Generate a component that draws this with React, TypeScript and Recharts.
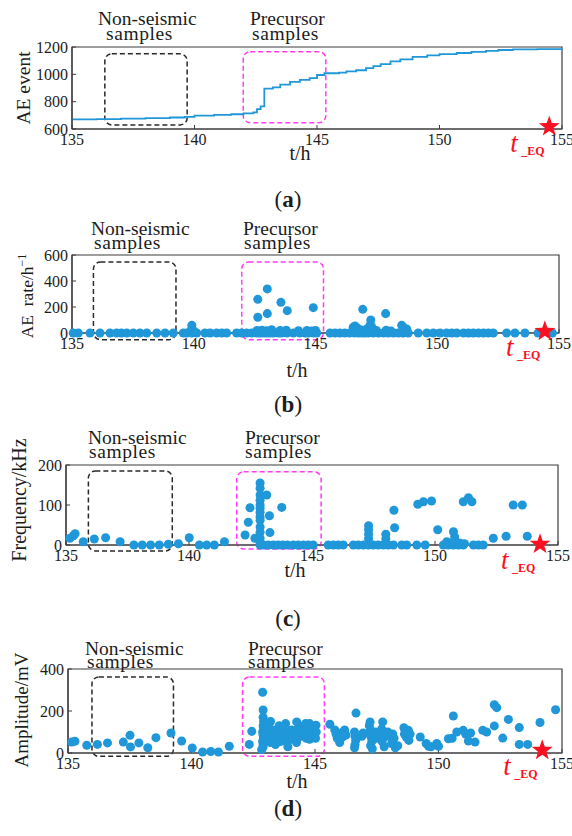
import React from 'react';
import {
  ComposedChart,
  ScatterChart,
  Scatter,
  Line,
  XAxis,
  YAxis,
  ReferenceArea,
  ReferenceDot,
} from 'recharts';

const W = 572;
const H = 836;
const YW = 40;
const XH = 30;
const SERIF = '"Liberation Serif", "Times New Roman", serif';
const BLUE = '#1f97d8';
const RED = '#fa1020';
const MAGENTA = '#ff3cf2';
const FRAME = '#3d3d3d';
const INK = '#1c1c1c';

const X_DOMAIN = [135, 155];
const X_TICKS = [135, 140, 145, 150, 155];

// (a) cumulative AE events, [t/h, count]
const eventPoints = [
  [135.0, 670], [136.0, 672], [137.0, 676], [138.0, 680], [139.0, 684], [139.6, 688],
  [140.0, 698], [140.8, 703], [141.5, 708], [142.0, 715], [142.4, 722], [142.55, 745],
  [142.7, 765], [142.85, 895], [143.2, 905], [143.5, 925], [143.9, 945], [144.3, 960],
  [144.7, 972], [145.0, 995], [145.3, 1008], [145.9, 1012], [146.2, 1022], [146.6, 1030],
  [147.0, 1045], [147.3, 1060], [147.6, 1075], [148.0, 1095], [148.4, 1110], [148.9, 1128],
  [149.5, 1138], [150.0, 1148], [150.7, 1156], [151.3, 1164], [151.9, 1172], [152.4, 1178],
  [153.0, 1182], [154.0, 1184], [155.0, 1185],
];

// (b) AE rate, [t/h, rate]
const ratePoints = [
  [135.05, 0], [135.26, 0], [135.74, 0], [136.15, 0], [136.56, 0], [136.83, 0], [137.03, 0],
  [137.25, 0], [137.52, 0], [137.79, 0], [138.07, 0], [138.48, 0], [138.82, 0], [139.16, 0],
  [139.57, 0], [139.71, 0], [139.92, 0], [140.12, 0], [140.46, 0], [140.67, 0], [140.94, 0],
  [141.15, 0], [141.35, 0], [141.76, 0], [141.97, 0], [142.17, 0], [142.38, 0], [142.58, 0],
  [142.72, 0], [142.86, 0], [142.99, 0], [143.13, 0], [143.27, 0], [143.47, 0], [143.61, 0],
  [143.82, 0], [144.09, 0], [144.36, 0], [144.57, 0], [144.7, 0], [144.91, 0], [145.05, 0],
  [145.6, 0], [145.8, 0], [146.0, 0], [146.2, 0], [146.4, 0], [146.6, 0], [146.76, 0],
  [146.9, 0], [147.03, 0], [147.17, 0], [147.37, 0], [147.58, 0], [147.79, 0], [147.99, 0],
  [148.2, 0], [148.4, 0], [148.6, 0], [148.81, 0], [149.22, 0], [149.57, 0], [149.84, 0],
  [150.12, 0], [150.39, 0], [150.6, 0], [150.8, 0], [151.08, 0], [151.28, 0], [151.48, 0],
  [151.69, 0], [151.9, 0], [152.1, 0], [152.3, 0], [152.85, 0], [153.19, 0], [153.6, 0],
  [154.14, 0], [154.73, 0],
  [139.9, 25], [140.0, 15], [142.6, 20], [142.8, 22], [143.0, 18], [143.2, 25], [143.55, 20],
  [143.8, 22], [144.3, 18], [144.65, 20], [144.85, 15], [145.0, 20], [146.55, 45], [146.7, 40],
  [146.85, 25], [147.1, 30], [147.3, 50], [147.5, 20], [147.9, 22], [148.1, 15], [148.6, 45],
  [148.75, 30],
  [142.63, 259], [143.02, 339], [142.63, 121], [143.02, 149], [143.58, 236], [143.84, 172],
  [144.91, 195], [146.94, 182], [147.27, 100], [147.88, 149], [139.92, 59], [146.62, 54],
  [147.24, 60], [148.54, 59],
];

// (c) dominant frequency, [t/h, kHz]
const freqPoints = [
  [135.16, 17], [135.3, 23], [135.37, 28], [135.7, 8], [136.15, 15], [136.61, 18], [137.2, 8],
  [137.76, 0], [138.1, 0], [138.44, 0], [138.79, 0], [139.16, 2], [139.57, 3], [140.01, 18],
  [140.42, 0], [140.72, 0], [141.03, 0], [141.44, 8], [142.28, 25], [142.41, 57], [142.48, 93],
  [142.68, 17],
  [142.89, 155], [142.89, 142], [142.89, 125], [142.89, 112], [142.89, 100], [142.89, 92],
  [142.89, 82], [142.89, 70], [142.89, 62], [142.89, 45], [142.89, 32], [142.89, 17],
  [142.89, 7], [142.89, 0],
  [143.16, 125], [143.27, 73], [143.29, 31], [143.77, 94],
  [143.02, 0], [143.22, 0], [143.43, 0], [143.63, 0], [143.81, 0], [144.0, 0], [144.24, 0],
  [144.44, 0], [144.65, 0], [144.85, 0], [145.05, 0], [145.66, 0], [145.87, 0], [146.07, 0],
  [146.27, 0], [146.68, 0], [146.88, 0], [147.09, 0], [147.29, 0], [147.49, 0], [147.69, 0],
  [147.9, 0], [148.1, 0], [148.31, 0], [148.65, 0], [148.85, 0], [149.26, 0], [149.6, 0],
  [150.34, 0], [150.54, 0], [150.75, 0], [150.95, 0], [151.15, 0], [151.56, 0], [151.76, 0],
  [151.96, 0],
  [147.3, 48], [147.3, 38], [147.3, 27], [147.3, 16], [147.3, 6],
  [148.0, 27], [148.0, 15],
  [148.33, 87], [148.36, 43], [149.3, 102], [149.53, 108], [149.86, 110], [150.11, 38],
  [150.48, 8], [150.75, 33], [150.8, 20], [150.65, 5], [151.0, 5], [151.2, 3], [151.15, 108],
  [151.36, 118], [151.5, 108], [152.37, 17], [152.89, 22], [153.18, 100], [153.55, 100],
  [153.75, 22],
];

// (d) amplitude, [t/h, mV]
const ampPoints = [
  [135.15, 52], [135.28, 56], [135.76, 37], [136.19, 41], [136.6, 48], [137.24, 52], [137.51, 84],
  [137.53, 29], [137.87, 48], [138.23, 25], [138.56, 73], [139.17, 95], [139.6, 57], [140.03, 24],
  [140.45, 5], [140.78, 7], [141.09, 5], [141.53, 32], [142.34, 41], [142.44, 103],
  [142.88, 289], [142.9, 205], [142.9, 170], [142.92, 150], [142.9, 130], [142.92, 115],
  [142.88, 100], [142.9, 85], [142.92, 70], [142.88, 55], [142.9, 40], [142.84, 16], [142.9, 28],
  [143.2, 150], [143.15, 120], [143.2, 95], [143.18, 70], [143.2, 50],
  [143.4, 110], [143.38, 80], [143.42, 60], [143.4, 40],
  [143.55, 130], [143.58, 100], [143.55, 75], [143.6, 55],
  [143.7, 120], [143.72, 90], [143.7, 65],
  [143.81, 140], [143.85, 100], [143.88, 75], [143.85, 55], [143.9, 30],
  [144.05, 110], [144.08, 85], [144.05, 65],
  [144.26, 148], [144.25, 110], [144.3, 90], [144.28, 70], [144.25, 50],
  [144.45, 125], [144.48, 100], [144.45, 80],
  [144.62, 140], [144.66, 120], [144.6, 95], [144.65, 70],
  [144.78, 140], [144.75, 115], [144.8, 90], [144.78, 65],
  [144.92, 120], [144.95, 95], [144.9, 75],
  [145.04, 132], [145.05, 100], [145.02, 70],
  [145.6, 137], [145.8, 110], [145.85, 90], [145.9, 70], [146.0, 50], [146.05, 95], [146.1, 75],
  [146.2, 110], [146.25, 85],
  [146.66, 190], [146.6, 100], [146.62, 80], [146.65, 60], [146.62, 40], [146.6, 25],
  [146.9, 80], [146.95, 95],
  [147.23, 148], [147.2, 130], [147.25, 110], [147.22, 90], [147.28, 75], [147.3, 55],
  [147.25, 35], [147.32, 20], [147.45, 100], [147.5, 70],
  [147.74, 148], [147.7, 115], [147.75, 95], [147.78, 75], [147.72, 55], [147.8, 30],
  [147.95, 100], [148.0, 80],
  [148.15, 90], [148.2, 70], [148.1, 45], [148.25, 25], [148.35, 35],
  [148.6, 120], [148.65, 105], [148.62, 90], [148.7, 75], [148.78, 108], [148.8, 60], [148.85, 90],
  [149.26, 76], [149.5, 45], [149.6, 32], [149.7, 30], [149.93, 45], [150.0, 32], [150.4, 68],
  [150.55, 70], [150.6, 176], [150.74, 100], [151.0, 108], [151.1, 90], [151.21, 57], [151.3, 95],
  [151.48, 52], [151.79, 108], [151.95, 100],
  [152.26, 230], [152.36, 216], [152.26, 129], [152.6, 71], [152.83, 160], [153.27, 121],
  [153.27, 41], [153.61, 41], [154.11, 145], [154.74, 206],
];

// earthquake moment marker per panel, [t/h, y]
const quakeA = [154.48, 617];
const quakeB = [154.42, 13];
const quakeC = [154.27, 2];
const quakeD = [154.2, 13];

// dashed sample windows per panel: [x1, x2, y1, y2]
const nonSeismicBoxes = [
  [136.34, 139.7, 630, 1150],
  [135.88, 139.27, -51, 546],
  [135.91, 139.32, -15, 185],
  [135.97, 139.27, -16, 362],
];
const precursorBoxes = [
  [141.99, 145.36, 646, 1166],
  [141.97, 145.33, -51, 546],
  [141.94, 145.37, -10, 183],
  [142.07, 145.38, -16, 362],
];

const toRows = (pts: number[][]) => pts.map(([t, v]) => ({ t, v }));

type Plot = { left: number; right: number; top: number; bottom: number };

const PLOTS: Plot[] = [
  { left: 72, right: 562, top: 47, bottom: 129 },
  { left: 72, right: 559, top: 255, bottom: 333 },
  { left: 66, right: 558, top: 465, bottom: 545 },
  { left: 68, right: 562, top: 669, bottom: 753 },
];

const marginFor = (p: Plot) => ({
  top: p.top,
  left: p.left - YW,
  right: W - p.right,
  bottom: H - p.bottom - XH,
});

const TICK = { fill: INK, fontSize: 16, fontFamily: SERIF };

const dashedRect = (color: string) => (p: any) => (
  <rect
    x={p.x}
    y={p.y}
    width={p.width}
    height={p.height}
    rx={7}
    ry={7}
    fill="none"
    stroke={color}
    strokeWidth={1.5}
    strokeDasharray="5 3"
  />
);

function starPoints(cx: number, cy: number, R: number) {
  const r = R * 0.4;
  const pts: string[] = [];
  for (let i = 0; i < 10; i++) {
    const a = -Math.PI / 2 + (i * Math.PI) / 5;
    const rr = i % 2 === 0 ? R : r;
    pts.push(`${cx + rr * Math.cos(a)},${cy + rr * Math.sin(a)}`);
  }
  return pts.join(' ');
}

const quakeShape = (p: any) => (
  <g>
    <polygon points={starPoints(p.cx, p.cy, 11)} fill={RED} />
    <text
      x={p.cx - 39}
      y={p.cy + 25}
      fill={RED}
      fontFamily={SERIF}
      fontStyle="italic"
      fontSize={27}
    >
      t
    </text>
    <text x={p.cx - 28} y={p.cy + 28} fill={RED} fontFamily={SERIF} fontWeight="bold" fontSize={12}>
      _EQ
    </text>
  </g>
);

function frameParts(i: number, yDomain: number[], yTicks: number[]) {
  const nb = nonSeismicBoxes[i];
  const pb = precursorBoxes[i];
  return [
    <XAxis
      key="x"
      type="number"
      dataKey="t"
      domain={X_DOMAIN}
      ticks={X_TICKS}
      interval={0}
      height={XH}
      tickSize={-4}
      tickMargin={9}
      tick={TICK}
      axisLine={{ stroke: FRAME, strokeWidth: 1.2 }}
      tickLine={{ stroke: FRAME }}
    />,
    <YAxis
      key="y"
      type="number"
      dataKey="v"
      domain={yDomain}
      ticks={yTicks}
      interval={0}
      width={YW}
      tickSize={-4}
      tickMargin={8}
      tick={TICK}
      axisLine={{ stroke: FRAME, strokeWidth: 1.2 }}
      tickLine={{ stroke: FRAME }}
    />,
    <ReferenceArea
      key="frame"
      x1={X_DOMAIN[0]}
      x2={X_DOMAIN[1]}
      y1={yDomain[0]}
      y2={yDomain[1]}
      fill="none"
      stroke={FRAME}
      strokeWidth={1.2}
    />,
    <ReferenceArea
      key="nb"
      x1={nb[0]}
      x2={nb[1]}
      y1={nb[2]}
      y2={nb[3]}
      ifOverflow="visible"
      shape={dashedRect('#2a2a2a')}
    />,
    <ReferenceArea
      key="pb"
      x1={pb[0]}
      x2={pb[1]}
      y1={pb[2]}
      y2={pb[3]}
      ifOverflow="visible"
      shape={dashedRect(MAGENTA)}
    />,
  ];
}

const layer: React.CSSProperties = { position: 'absolute', left: 0, top: 0 };

function ScatterPanel({ i, points, yDomain, yTicks, quake }: any) {
  return (
    <div style={layer}>
      <ScatterChart width={W} height={H} margin={marginFor(PLOTS[i])}>
        {frameParts(i, yDomain, yTicks)}
        <Scatter data={toRows(points)} fill={BLUE} isAnimationActive={false} />
        <ReferenceDot x={quake[0]} y={quake[1]} r={11} ifOverflow="visible" shape={quakeShape} />
      </ScatterChart>
    </div>
  );
}

const sampleLabels = [
  { nx: 98, px: 250, y1: 25, y2: 40, ni: 8, pi: 2 },
  { nx: 91, px: 243, y1: 235, y2: 249, ni: 3, pi: 1 },
  { nx: 88, px: 245, y1: 444, y2: 458, ni: 1, pi: 0 },
  { nx: 85, px: 248, y1: 655, y2: 668, ni: 2, pi: 0 },
];

const axisTitleX = [
  { x: 300, y: 160 },
  { x: 297, y: 377 },
  { x: 295, y: 577 },
  { x: 297, y: 788 },
];

const captions = [
  { y: 207, letter: 'a' },
  { y: 412, letter: 'b' },
  { y: 626, letter: 'c' },
  { y: 816, letter: 'd' },
];

function Annotations() {
  const txt = { fontFamily: SERIF, fill: INK };
  return (
    <svg width={W} height={H} style={{ ...layer, pointerEvents: 'none' }}>
      {sampleLabels.map((s, k) => (
        <g key={k} {...txt} fontSize={19.5}>
          <text x={s.nx} y={s.y1}>Non-seismic</text>
          <text x={s.nx + s.ni} y={s.y2} letterSpacing={0.6}>samples</text>
          <text x={s.px} y={s.y1}>Precursor</text>
          <text x={s.px + s.pi} y={s.y2} letterSpacing={0.6}>samples</text>
        </g>
      ))}
      {axisTitleX.map((a, k) => (
        <text key={k} x={a.x} y={a.y} textAnchor="middle" fontSize={20} {...txt}>
          t/h
        </text>
      ))}
      <text transform="translate(30,88) rotate(-90)" textAnchor="middle" fontSize={19.5} {...txt}>
        AE event
      </text>
      <text transform="translate(33,296) rotate(-90)" textAnchor="middle" fontSize={17.5} {...txt}>
        AE{'\u00a0\u00a0'}rate/h
        <tspan dy={-7} fontSize={12}>
          −1
        </tspan>
      </text>
      <text transform="translate(26,500) rotate(-90)" textAnchor="middle" fontSize={20} {...txt}>
        Frequency/kHz
      </text>
      <text transform="translate(28,710) rotate(-90)" textAnchor="middle" fontSize={19} {...txt}>
        Amplitude/mV
      </text>
      {captions.map((c) => (
        <text key={c.letter} x={288} y={c.y} textAnchor="middle" fontSize={23} {...txt}>
          (<tspan fontWeight="bold">{c.letter}</tspan>)
        </text>
      ))}
    </svg>
  );
}

export default function App() {
  return (
    <div style={{ position: 'absolute', left: 0, top: 0, width: W, height: H, background: '#fff' }}>
      <div style={layer}>
        <ComposedChart width={W} height={H} data={toRows(eventPoints)} margin={marginFor(PLOTS[0])}>
          {frameParts(0, [600, 1200], [600, 800, 1000, 1200])}
          <Line
            type="stepAfter"
            dataKey="v"
            stroke={BLUE}
            strokeWidth={1.8}
            dot={false}
            isAnimationActive={false}
          />
          <ReferenceDot x={quakeA[0]} y={quakeA[1]} r={11} ifOverflow="visible" shape={quakeShape} />
        </ComposedChart>
      </div>
      <ScatterPanel i={1} points={ratePoints} yDomain={[0, 600]} yTicks={[0, 200, 400, 600]} quake={quakeB} />
      <ScatterPanel i={2} points={freqPoints} yDomain={[0, 200]} yTicks={[0, 100, 200]} quake={quakeC} />
      <ScatterPanel i={3} points={ampPoints} yDomain={[0, 400]} yTicks={[0, 200, 400]} quake={quakeD} />
      <Annotations />
    </div>
  );
}
